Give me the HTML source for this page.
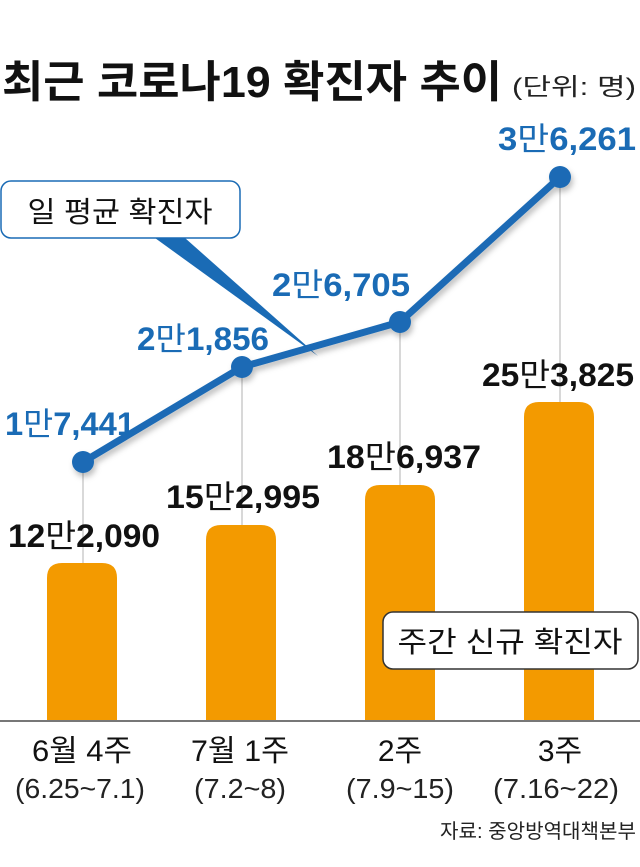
<!DOCTYPE html>
<html><head><meta charset="utf-8"><style>
html,body{margin:0;padding:0;background:#fff;}
svg{display:block;}
text{font-family:"Liberation Sans","Noto Sans CJK KR",sans-serif;}
</style></head><body>
<svg width="640" height="867" viewBox="0 0 640 867" xmlns="http://www.w3.org/2000/svg">
<defs>
<filter id="sh" x="-20%" y="-20%" width="140%" height="160%"><feDropShadow dx="2" dy="4" stdDeviation="3" flood-color="#000" flood-opacity="0.25"/></filter>
</defs>
<text x="2" y="97" font-size="44" font-weight="bold" fill="#111" textLength="500" lengthAdjust="spacingAndGlyphs">최근 코로나19 확진자 추이</text>
<text x="512" y="95" font-size="24" fill="#222" textLength="124" lengthAdjust="spacingAndGlyphs">(단위: 명)</text>

<g stroke="#ccc" stroke-width="1.5">
<line x1="83" y1="462" x2="83" y2="565"/>
<line x1="242" y1="367" x2="242" y2="525"/>
<line x1="400" y1="322" x2="400" y2="485"/>
<line x1="560" y1="177" x2="560" y2="402"/>
</g>

<g fill="#f39a00">
<path d="M47 720 V578 Q47 563 62 563 H102 Q117 563 117 578 V720Z"/>
<path d="M206 720 V540 Q206 525 221 525 H261 Q276 525 276 540 V720Z"/>
<path d="M365 720 V500 Q365 485 380 485 H420 Q435 485 435 500 V720Z"/>
<path d="M524 720 V417 Q524 402 539 402 H579 Q594 402 594 417 V720Z"/>
</g>
<line x1="0" y1="721" x2="640" y2="721" stroke="#777" stroke-width="2"/>

<polygon points="155,238 185,238 318,356" fill="#1a6bb5"/>
<rect x="1" y="181" width="239" height="57" rx="10" fill="#fff" stroke="#1a6bb5" stroke-width="1.5"/>
<text x="120" y="222" font-size="29" fill="#111" text-anchor="middle" textLength="185" lengthAdjust="spacingAndGlyphs">일 평균 확진자</text>

<g filter="url(#sh)">
<polyline points="83,462 242,367 400,322 560,177" fill="none" stroke="#1a6bb5" stroke-width="7" stroke-linejoin="round"/>
<g fill="#1a6bb5">
<circle cx="83" cy="462" r="11"/><circle cx="242" cy="367" r="11"/><circle cx="400" cy="322" r="11"/><circle cx="560" cy="177" r="11"/>
</g>
</g>

<g font-size="32" font-weight="bold" fill="#1a6bb5">
<text x="5" y="435" textLength="130" lengthAdjust="spacingAndGlyphs">1<tspan font-weight="normal">만</tspan>7,441</text>
<text x="137" y="350" textLength="132" lengthAdjust="spacingAndGlyphs">2<tspan font-weight="normal">만</tspan>1,856</text>
<text x="272" y="296" textLength="138" lengthAdjust="spacingAndGlyphs">2<tspan font-weight="normal">만</tspan>6,705</text>
<text x="498" y="150" textLength="138" lengthAdjust="spacingAndGlyphs">3<tspan font-weight="normal">만</tspan>6,261</text>
</g>
<g font-size="32" font-weight="bold" fill="#111">
<text x="8" y="547" textLength="152" lengthAdjust="spacingAndGlyphs">12<tspan font-weight="normal">만</tspan>2,090</text>
<text x="166" y="508" textLength="154" lengthAdjust="spacingAndGlyphs">15<tspan font-weight="normal">만</tspan>2,995</text>
<text x="327" y="468" textLength="154" lengthAdjust="spacingAndGlyphs">18<tspan font-weight="normal">만</tspan>6,937</text>
<text x="482" y="386" textLength="152" lengthAdjust="spacingAndGlyphs">25<tspan font-weight="normal">만</tspan>3,825</text>
</g>

<rect x="383" y="612" width="255" height="57" rx="10" fill="#fff" stroke="#333" stroke-width="1.5"/>
<text x="510" y="652" font-size="29" fill="#111" text-anchor="middle" textLength="225" lengthAdjust="spacingAndGlyphs">주간 신규 확진자</text>

<g font-size="30" fill="#111" text-anchor="middle">
<text x="82" y="761" textLength="100" lengthAdjust="spacingAndGlyphs">6월 4주</text>
<text x="240" y="761" textLength="98" lengthAdjust="spacingAndGlyphs">7월 1주</text>
<text x="400" y="761">2주</text>
<text x="560" y="761">3주</text>
</g>
<g font-size="28" fill="#222" text-anchor="middle">
<text x="80" y="798" textLength="130" lengthAdjust="spacingAndGlyphs">(6.25~7.1)</text>
<text x="240" y="798" textLength="92" lengthAdjust="spacingAndGlyphs">(7.2~8)</text>
<text x="400" y="798" textLength="108" lengthAdjust="spacingAndGlyphs">(7.9~15)</text>
<text x="556" y="798" textLength="126" lengthAdjust="spacingAndGlyphs">(7.16~22)</text>
</g>
<text x="636" y="838" font-size="20" fill="#222" text-anchor="end" textLength="196" lengthAdjust="spacingAndGlyphs">자료: 중앙방역대책본부</text>
</svg>
</body></html>
